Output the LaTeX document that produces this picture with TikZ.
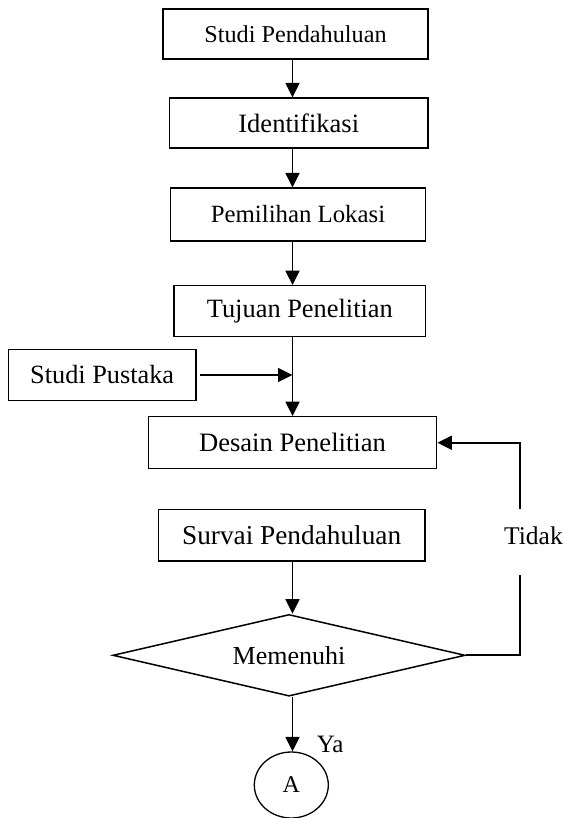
\documentclass[tikz,border=0pt]{standalone}
\usepackage{fontspec}
\setmainfont{Liberation Serif}
\usetikzlibrary{arrows.meta,shapes.geometric}
\newcommand{\myfs}[1]{\fontsize{#1pt}{#1pt}\selectfont}
\tikzset{
  box/.style={draw, line width=1.3pt, inner sep=0pt, align=center},
  arr/.style={line width=1.8pt, -{Triangle[length=14.5pt,width=14pt]}},
  ln/.style={line width=1.8pt}
}
\begin{document}
\begin{tikzpicture}[x=1pt,y=-1pt]
\useasboundingbox (0,0) rectangle (563,818);
\coordinate (col) at (292.5,0);
\node[box, minimum width=265pt, minimum height=50pt, font=\myfs{24.2}] (b1) at (295.5,34) {Studi Pendahuluan};
\node[box, minimum width=258.5pt, minimum height=50pt, font=\myfs{26.5}] (b2) at (298.75,123) {Identifikasi};
\node[box, minimum width=255pt, minimum height=53pt, font=\myfs{24.8}] (b3) at (298,214.5) {Pemilihan Lokasi};
\node[box, minimum width=251.7pt, minimum height=51pt, font=\myfs{26.4}] (b4) at (299.85,311.2) {Tujuan Penelitian};
\node[box, minimum width=187.7pt, minimum height=51.4pt, font=\myfs{26.3}] (b5) at (102.15,375) {Studi Pustaka};
\node[box, minimum width=288.4pt, minimum height=52pt, font=\myfs{26.6}] (b6) at (292.5,442.7) {Desain Penelitian};
\node[box, minimum width=266.7pt, minimum height=51.7pt, font=\myfs{27.3}] (b7) at (291.65,535.15) {Survai Pendahuluan};
\node[draw, diamond, aspect=4.31, minimum width=352.3pt, minimum height=81.7pt, inner sep=0pt, line width=1.5pt, font=\myfs{26}] (dia) at (289,655.3) {Memenuhi};
\node[draw, ellipse, minimum width=74pt, minimum height=66pt, inner sep=0pt, line width=1.3pt, font=\myfs{24}] (circ) at (291.3,785) {A};
\node[anchor=base west, inner sep=0pt, font=\myfs{25.5}] (tidak) at (504,544) {Tidak};
\node[anchor=base west, inner sep=0pt, font=\myfs{25}] (ya) at (316.7,752) {Ya};
\draw[arr] (b1.south -| col) -- (b2.north -| col);
\draw[arr] (b2.south -| col) -- (b3.north -| col);
\draw[arr] (b3.south -| col) -- (b4.north -| col);
\draw[arr] (b4.south -| col) -- (b6.north -| col);
\draw[arr] ([xshift=3.3pt]b5.east) -- (b5.east -| col);
\draw[arr] (b7.south -| col) -- (dia.north -| col);
\draw[arr] (dia.south -| col) -- (circ.north -| col);
\coordinate (g1) at (519.7,575);
\coordinate (g2) at (519.7,509.3);
\draw[ln] (dia.east) -| (g1);
\draw[arr] (g2) |- (b6.east);
\end{tikzpicture}
\end{document}
